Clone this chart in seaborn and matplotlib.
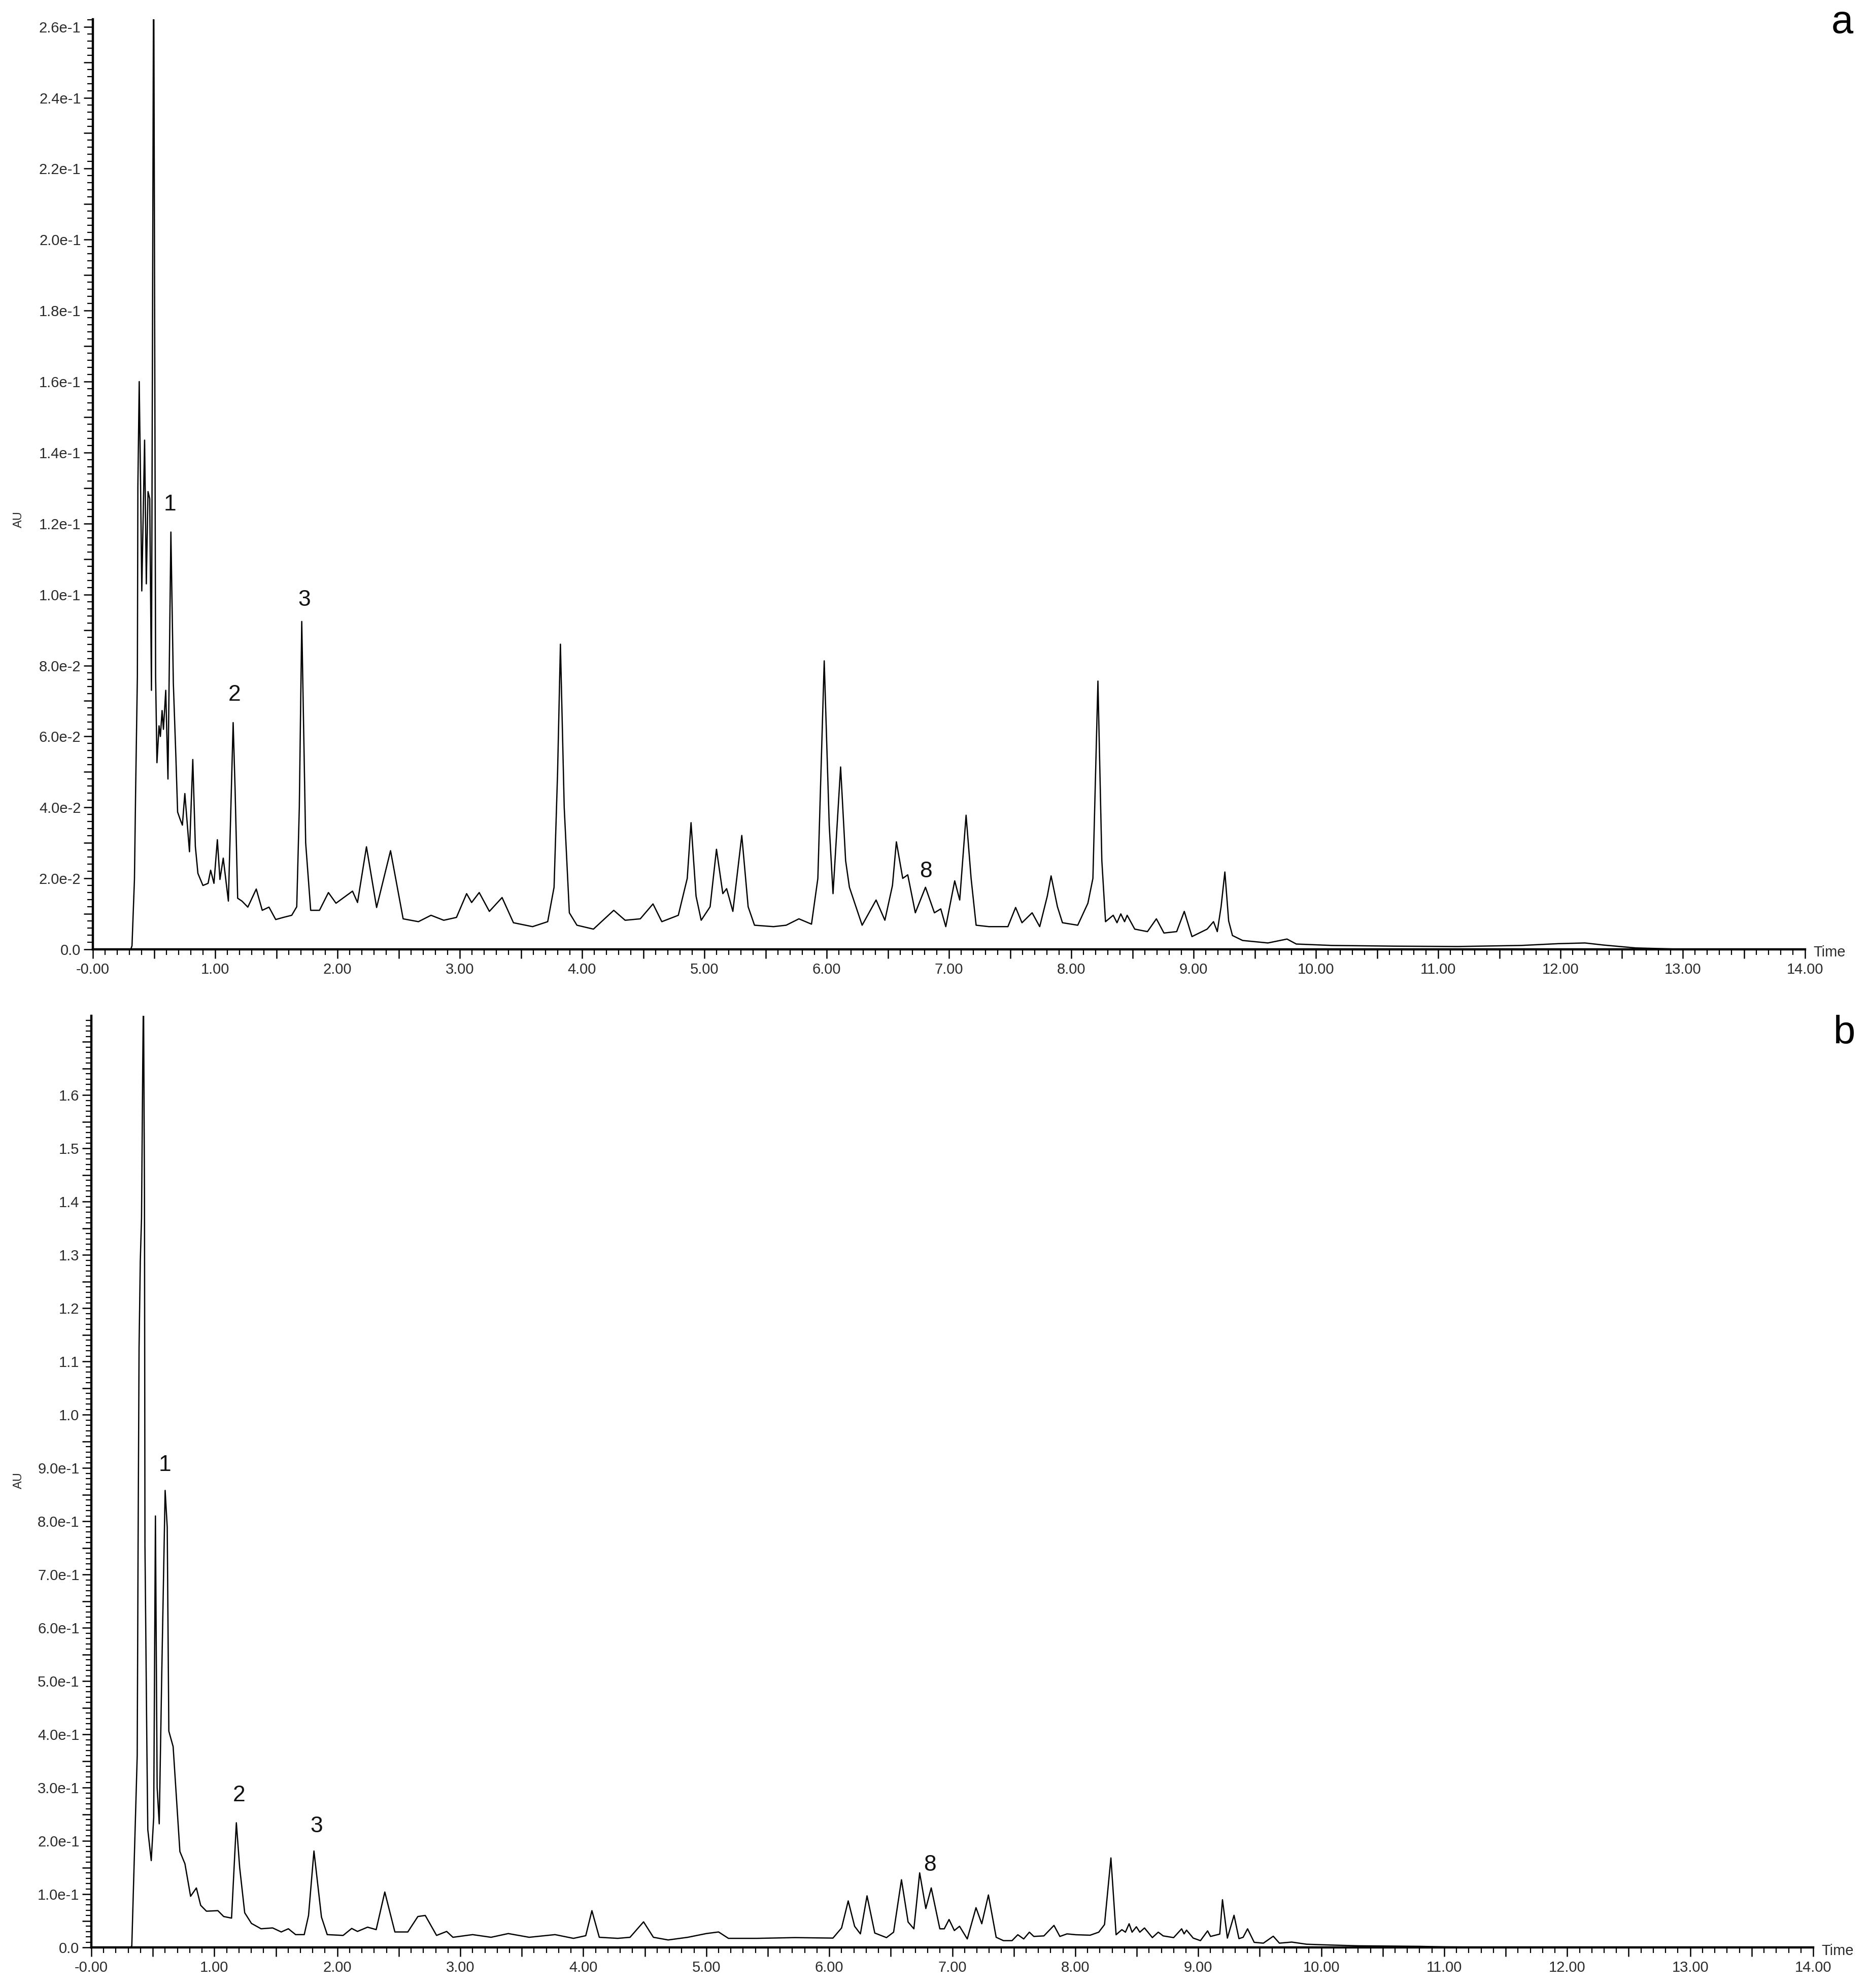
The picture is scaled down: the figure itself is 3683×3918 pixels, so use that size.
import numpy as np
import pandas as pd
import seaborn as sns
import matplotlib.pyplot as plt

# Chromatogram a (retention time in min, absorbance in AU)
time_a = [0.0, 0.31, 0.32, 0.340, 0.350, 0.364, 0.368, 0.379, 0.389, 0.400, 0.423, 0.437,
          0.451, 0.465, 0.479, 0.497, 0.513, 0.524, 0.541, 0.552, 0.566, 0.577, 0.596,
          0.614, 0.638, 0.658, 0.679, 0.693, 0.714, 0.732, 0.752, 0.790, 0.817, 0.838,
          0.859, 0.900, 0.942, 0.963, 0.990, 1.018, 1.039, 1.066, 1.108, 1.147, 1.163,
          1.184, 1.219, 1.267, 1.336, 1.385, 1.440, 1.495, 1.557, 1.626, 1.667, 1.688,
          1.708, 1.740, 1.781, 1.853, 1.926, 1.988, 2.123, 2.164, 2.237, 2.320, 2.434,
          2.537, 2.662, 2.765, 2.869, 2.973, 3.056, 3.097, 3.159, 3.242, 3.346, 3.439,
          3.595, 3.719, 3.771, 3.800, 3.823, 3.854, 3.896, 3.958, 4.093, 4.259, 4.352,
          4.476, 4.580, 4.652, 4.787, 4.860, 4.891, 4.932, 4.974, 5.047, 5.099, 5.151,
          5.182, 5.233, 5.306, 5.358, 5.410, 5.565, 5.669, 5.773, 5.876, 5.928, 5.980,
          6.021, 6.052, 6.114, 6.155, 6.186, 6.290, 6.404, 6.476, 6.538, 6.570, 6.622,
          6.663, 6.725, 6.808, 6.881, 6.933, 6.974, 7.047, 7.088, 7.140, 7.181, 7.222,
          7.326, 7.482, 7.545, 7.597, 7.680, 7.742, 7.804, 7.835, 7.887, 7.928, 8.053,
          8.136, 8.177, 8.218, 8.250, 8.280, 8.343, 8.374, 8.405, 8.436, 8.457, 8.519,
          8.623, 8.696, 8.758, 8.862, 8.924, 8.987, 9.111, 9.163, 9.194, 9.225, 9.256,
          9.287, 9.318, 9.401, 9.608, 9.764, 9.840, 10.13, 10.645, 11.16, 11.68, 11.98,
          12.20, 12.356, 12.615, 12.926, 14.0]
au_a = [0.0, 0.0, 0.001, 0.0197, 0.0456, 0.077, 0.1305, 0.160, 0.134, 0.101, 0.1435, 0.103,
        0.129, 0.127, 0.073, 0.285, 0.077, 0.0526, 0.063, 0.060, 0.0673, 0.062, 0.073,
        0.048, 0.1176, 0.075, 0.054, 0.0387, 0.0366, 0.035, 0.0439, 0.0275, 0.0535, 0.029,
        0.0214, 0.018, 0.0186, 0.0223, 0.0186, 0.0309, 0.0197, 0.0257, 0.0136, 0.0639, 0.045,
        0.0144, 0.0136, 0.0119, 0.017, 0.011, 0.0119, 0.0084, 0.0090, 0.0096, 0.012, 0.040,
        0.0924, 0.030, 0.011, 0.011, 0.016, 0.013, 0.0164, 0.0132, 0.0289, 0.0118, 0.0278,
        0.0086, 0.0078, 0.0096, 0.0082, 0.009, 0.0157, 0.0132, 0.016, 0.0107, 0.0146, 0.0075,
        0.0064, 0.0078, 0.0175, 0.050, 0.086, 0.040, 0.0103, 0.0068, 0.0057, 0.011, 0.0082,
        0.0086, 0.0128, 0.0078, 0.0096, 0.020, 0.0357, 0.015, 0.0082, 0.012, 0.0282, 0.0157,
        0.0171, 0.0107, 0.0321, 0.012, 0.0068, 0.0064, 0.0068, 0.0086, 0.0071, 0.020, 0.0813,
        0.035, 0.0157, 0.0514, 0.025, 0.0175, 0.0068, 0.0139, 0.0082, 0.018, 0.0303, 0.020,
        0.021, 0.0103, 0.0175, 0.0103, 0.0114, 0.0064, 0.0193, 0.0139, 0.0378, 0.020, 0.0068,
        0.0064, 0.0064, 0.0118, 0.0075, 0.0103, 0.0064, 0.015, 0.0207, 0.012, 0.0075, 0.0068,
        0.013, 0.020, 0.0756, 0.025, 0.0078, 0.0096, 0.0075, 0.0100, 0.0078, 0.0096, 0.0057,
        0.005, 0.0086, 0.0046, 0.005, 0.0107, 0.0036, 0.0057, 0.0078, 0.005, 0.012, 0.0218,
        0.008, 0.0039, 0.0025, 0.0018, 0.0029, 0.0015, 0.0011, 0.0009, 0.0008, 0.0011, 0.0016,
        0.0018, 0.0012, 0.0004, 0.0001, 0.0]

# Chromatogram b
time_b = [0.0, 0.320, 0.329, 0.356, 0.373, 0.380, 0.388, 0.398, 0.408, 0.418, 0.424, 0.432,
          0.436, 0.452, 0.459, 0.487, 0.507, 0.521, 0.535, 0.552, 0.573, 0.600, 0.617, 0.630,
          0.665, 0.699, 0.720, 0.761, 0.807, 0.854, 0.889, 0.936, 1.029, 1.076, 1.140, 1.179,
          1.206, 1.247, 1.302, 1.380, 1.474, 1.544, 1.602, 1.661, 1.731, 1.766, 1.810, 1.871,
          1.918, 2.047, 2.117, 2.164, 2.246, 2.316, 2.386, 2.468, 2.573, 2.655, 2.715, 2.807,
          2.889, 2.94, 3.10, 3.25, 3.39, 3.56, 3.77, 3.92, 4.02, 4.07, 4.13, 4.28, 4.38, 4.49,
          4.57, 4.69, 4.85, 5.00, 5.10, 5.18, 5.41, 5.72, 6.030, 6.100, 6.154, 6.206, 6.253,
          6.307, 6.370, 6.465, 6.523, 6.587, 6.641, 6.688, 6.735, 6.785, 6.829, 6.899, 6.935,
          6.974, 7.017, 7.059, 7.122, 7.193, 7.240, 7.294, 7.357, 7.416, 7.486, 7.533, 7.581,
          7.627, 7.663, 7.745, 7.827, 7.875, 7.933, 8.005, 8.121, 8.191, 8.238, 8.290, 8.332,
          8.379, 8.408, 8.438, 8.462, 8.497, 8.525, 8.563, 8.627, 8.675, 8.715, 8.800, 8.865,
          8.885, 8.905, 8.959, 9.018, 9.076, 9.100, 9.175, 9.197, 9.237, 9.291, 9.331, 9.365,
          9.401, 9.455, 9.53, 9.61, 9.66, 9.76, 9.88, 10.0, 10.3, 10.8, 11.0, 11.5, 14.0]
au_b = [0.0, 0.0, 0.003, 0.221, 0.36, 0.754, 1.126, 1.288, 1.369, 1.659, 1.80, 1.415,
        0.754, 0.366, 0.221, 0.163, 0.244, 0.81, 0.30, 0.232, 0.52, 0.858, 0.789, 0.406,
        0.377, 0.255, 0.18, 0.157, 0.096, 0.1116, 0.079, 0.068, 0.069, 0.058, 0.055, 0.234,
        0.15, 0.065, 0.045, 0.035, 0.0366, 0.029, 0.035, 0.024, 0.024, 0.060, 0.181, 0.057,
        0.024, 0.0225, 0.0356, 0.030, 0.038, 0.0334, 0.104, 0.029, 0.029, 0.058, 0.060, 0.0225,
        0.030, 0.019, 0.024, 0.019, 0.026, 0.019, 0.024, 0.017, 0.022, 0.069, 0.019, 0.017,
        0.019, 0.048, 0.019, 0.014, 0.019, 0.026, 0.029, 0.017, 0.017, 0.0184, 0.0175, 0.0365,
        0.0873, 0.0397, 0.0254, 0.0968, 0.027, 0.0184, 0.0286, 0.127, 0.0476, 0.0349, 0.140,
        0.073, 0.1117, 0.0349, 0.0349, 0.0524, 0.0317, 0.0397, 0.0159, 0.0746, 0.0444, 0.0984,
        0.019, 0.0127, 0.0127, 0.0238, 0.0159, 0.0286, 0.0206, 0.0216, 0.0413, 0.0206, 0.0254,
        0.0238, 0.0229, 0.0286, 0.0429, 0.168, 0.0238, 0.0333, 0.0286, 0.0444, 0.0286, 0.0387,
        0.0286, 0.0365, 0.0184, 0.0286, 0.0216, 0.0184, 0.0349, 0.0254, 0.0324, 0.0175, 0.0127,
        0.031, 0.0206, 0.025, 0.0895, 0.0175, 0.0603, 0.0165, 0.019, 0.0349, 0.0095, 0.008,
        0.021, 0.008, 0.010, 0.006, 0.005, 0.003, 0.002, 0.001, 0.0, 0.0]

# Axis ticks and labels
x_tick_values = [0, 1, 2, 3, 4, 5, 6, 7, 8, 9, 10, 11, 12, 13, 14]
x_tick_labels = ["-0.00", "1.00", "2.00", "3.00", "4.00", "5.00", "6.00", "7.00",
                 "8.00", "9.00", "10.00", "11.00", "12.00", "13.00", "14.00"]
y_ticks_a = [0.0, 0.02, 0.04, 0.06, 0.08, 0.10, 0.12, 0.14, 0.16, 0.18, 0.20, 0.22, 0.24, 0.26]
y_labels_a = ["0.0", "2.0e-2", "4.0e-2", "6.0e-2", "8.0e-2", "1.0e-1", "1.2e-1", "1.4e-1",
              "1.6e-1", "1.8e-1", "2.0e-1", "2.2e-1", "2.4e-1", "2.6e-1"]
y_ticks_b = [0.0, 0.1, 0.2, 0.3, 0.4, 0.5, 0.6, 0.7, 0.8, 0.9, 1.0, 1.1, 1.2, 1.3, 1.4, 1.5, 1.6]
y_labels_b = ["0.0", "1.0e-1", "2.0e-1", "3.0e-1", "4.0e-1", "5.0e-1", "6.0e-1", "7.0e-1",
              "8.0e-1", "9.0e-1", "1.0", "1.1", "1.2", "1.3", "1.4", "1.5", "1.6"]

# Peak annotations
peak_names = ["1", "2", "3", "8"]
peak_t_a = [0.63, 1.158, 1.73, 6.81]
peak_v_a = [0.1254, 0.0717, 0.0985, 0.022]
peak_t_b = [0.596, 1.20, 1.83, 6.82]
peak_v_b = [0.905, 0.285, 0.227, 0.155]

W, H = 3683, 3918
DPI = 100

sns.set_theme(style="ticks")
plt.rcParams['font.family'] = ['Liberation Sans', 'DejaVu Sans']

fig = plt.figure(figsize=(W / DPI, H / DPI), dpi=DPI)
fig.patch.set_facecolor("white")


def fig_box(left, top, right, bottom):
    # pixel box -> figure fraction
    return [left / W, 1 - bottom / H, (right - left) / W, (bottom - top) / H]


def draw_panel(ax, t, v, ymax, y_ticks, y_labels, y_mid, y_minor, names, pt, pv):
    df = pd.DataFrame({"Time": t, "AU": v})
    sns.lineplot(data=df, x="Time", y="AU", ax=ax, color="black", linewidth=1.8,
                 estimator=None, sort=False)
    ax.set_xlim(0, 14)
    ax.set_ylim(0, ymax)
    ax.set_xlabel("")
    ax.set_ylabel("")
    ax.set_facecolor("white")
    for s in ["top", "right"]:
        ax.spines[s].set_visible(False)
    for s in ["left", "bottom"]:
        ax.spines[s].set_linewidth(3.2)
        ax.spines[s].set_color("black")

    # majors every 0.5 min (labels only on whole minutes), minors every 0.1
    xt = np.arange(0, 14.01, 0.5)
    ax.set_xticks(xt)
    lab_map = dict(zip(x_tick_values, x_tick_labels))
    ax.set_xticklabels([lab_map.get(int(round(x)), "") if abs(x - round(x)) < 1e-6 else "" for x in xt])
    ax.set_xticks(np.arange(0, 14.01, 0.1), minor=True)

    yt = np.arange(0, ymax + 1e-9, y_mid)
    ax.set_yticks(yt)
    ylab = dict(zip([round(y, 4) for y in y_ticks], y_labels))
    ax.set_yticklabels([ylab.get(round(y, 4), "") for y in yt])
    ax.set_yticks(np.arange(0, ymax + 1e-9, y_minor), minor=True)

    ax.tick_params(which="major", direction="out", length=13, width=1.8, color="black",
                   labelsize=21, labelcolor="#2a2a2a", pad=4)
    ax.tick_params(which="minor", direction="out", length=8, width=1.6, color="black")
    ax.tick_params(axis="x", which="major", pad=6)

    for n, x0, y0 in zip(names, pt, pv):
        ax.text(x0, y0, n, ha="center", va="center", fontsize=32, color="#111111")


ax_a = fig.add_axes(fig_box(183, 38, 3557, 1871))
draw_panel(ax_a, time_a, au_a, 0.2621, y_ticks_a, y_labels_a, 0.01, 0.002,
           peak_names, peak_t_a, peak_v_a)

ax_b = fig.add_axes(fig_box(180, 2002, 3573, 3838))
draw_panel(ax_b, time_b, au_b, 1.749, y_ticks_b, y_labels_b, 0.05, 0.01,
           peak_names, peak_t_b, peak_v_b)

# axis captions and panel letters
fig.text(37 / W, 1 - 1024 / H, "AU", rotation=90, ha="center", va="center", fontsize=17, color="#2a2a2a")
fig.text(37 / W, 1 - 2918 / H, "AU", rotation=90, ha="center", va="center", fontsize=17, color="#2a2a2a")
fig.text(3573 / W, 1 - 1877 / H, "Time", ha="left", va="center", fontsize=21, color="#2a2a2a")
fig.text(3589 / W, 1 - 3845 / H, "Time", ha="left", va="center", fontsize=21, color="#2a2a2a")
fig.text(3630 / W, 1 - 45 / H, "a", ha="center", va="center", fontsize=56, color="black")
fig.text(3635 / W, 1 - 2036 / H, "b", ha="center", va="center", fontsize=56, color="black")

fig.savefig("out.png", dpi=DPI, facecolor="white")
